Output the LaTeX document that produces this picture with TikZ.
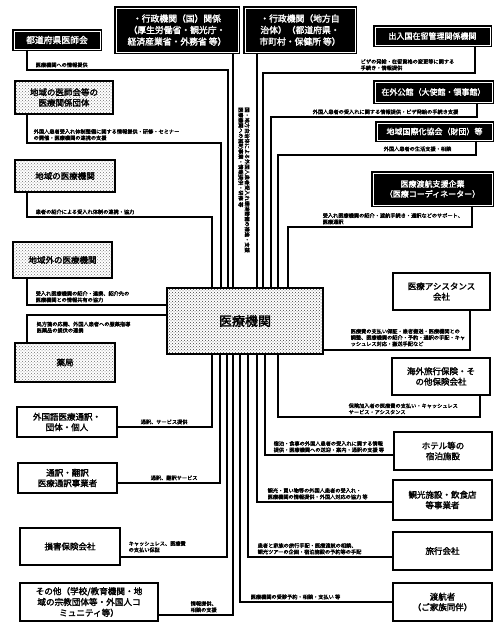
\documentclass[tikz,border=0pt]{standalone}
\usepackage{fontspec}
\setmainfont{Noto Sans CJK JP}[AutoFakeBold=2]
\usetikzlibrary{patterns}
\begin{document}
\begin{tikzpicture}[x=1pt,y=-1pt,
  blk/.style={draw=black, line width=1.3pt, double=white, double distance=0.5pt, fill=black, text=white, font=\bfseries\fontsize{8}{10}\selectfont, align=center, inner sep=1pt},
  spk/.style={draw=black, line width=1.3pt, pattern=crosshatch dots, pattern color=black!55, font=\bfseries\fontsize{8.5}{10.5}\selectfont, align=center, inner sep=1pt},
  wht/.style={draw=black, line width=1.5pt, fill=white, font=\bfseries\fontsize{8.5}{10.5}\selectfont, align=center, inner sep=1pt},
  ctr/.style={draw=black, line width=1.3pt, pattern=crosshatch dots, pattern color=black!75, font=\bfseries\fontsize{13}{15}\selectfont, align=center, inner sep=1pt},
  conn/.style={line width=1.1pt, draw=black},
  lbl/.style={font=\bfseries\fontsize{5.2}{6.3}\selectfont, inner sep=0.5pt, align=left}
]
\useasboundingbox (0,0) rectangle (497,624);

% ---- center ----
\node[ctr, minimum width=156, minimum height=66] (M) at (245,321) {医療機関};

% ---- top ----
\node[blk, minimum width=122, minimum height=44, font=\bfseries\fontsize{8.8}{11.5}\selectfont] (T1) at (177,30) {・行政機関（国）関係\\（厚生労働省・観光庁・\\経済産業省・外務省 等）};
\node[blk, minimum width=110, minimum height=44, font=\bfseries\fontsize{8.8}{11.5}\selectfont] (T2) at (300,30) {・行政機関（地方自\\治体）（都道府県・\\市町村・保健所 等）};

% ---- left ----
\node[blk, minimum width=86, minimum height=18, font=\bfseries\fontsize{8.8}{10}\selectfont] (A) at (57,40) {都道府県医師会};
\node[spk, minimum width=98, minimum height=33] (B) at (64,97.5) {地域の医師会等の\\医療関係団体};
\node[spk, minimum width=100, minimum height=32] (C) at (65,176) {地域の医療機関};
\node[spk, minimum width=99, minimum height=36] (D) at (62.5,260) {地域外の医療機関};
\node[spk, minimum width=100, minimum height=39] (E) at (65,362.5) {薬局};
\node[wht, minimum width=100, minimum height=30] (F) at (67,422) {外国語医療通訳・\\団体・個人};
\node[wht, minimum width=99, minimum height=30] (G) at (67.5,478) {通訳・翻訳\\医療通訳事業者};
\node[wht, minimum width=100, minimum height=37] (H) at (70,546.5) {損害保険会社};
\node[wht, minimum width=138, minimum height=38, font=\bfseries\fontsize{8.6}{10.8}\selectfont] (I) at (89,602) {その他（学校/教育機関・地\\域の宗教団体等・外国人コ\\ミュニティ等）};

% ---- right ----
\node[blk, minimum width=115, minimum height=18] (R1) at (432.5,36) {出入国在留管理関係機関};
\node[blk, minimum width=117, minimum height=20] (R2) at (433.5,92) {在外公館（大使館・領事館）};
\node[blk, minimum width=115, minimum height=17] (R3) at (434.5,131.5) {地域国際化協会（財団）等};
\node[blk, minimum width=119, minimum height=32] (R4) at (432.5,189) {医療渡航支援企業\\（医療コーディネーター）};
\node[wht, minimum width=97, minimum height=37] (R5) at (441.5,291.5) {医療アシスタンス\\会社};
\node[wht, minimum width=98, minimum height=37] (R6) at (441,376.5) {海外旅行保険・そ\\の他保険会社};
\node[wht, minimum width=98, minimum height=38] (R7) at (443,451) {ホテル等の\\宿泊施設};
\node[wht, minimum width=99, minimum height=40] (R8) at (442.5,500) {観光施設・飲食店\\等事業者};
\node[wht, minimum width=99, minimum height=38] (R9) at (442.5,551) {旅行会社};
\node[wht, minimum width=99, minimum height=38] (R10) at (442.5,602) {渡航者\\（ご家族同伴）};

% ---- connectors top ----
\draw[conn] (T1.south -| 233,0) -- (233,0 |- M.north);
\draw[conn] (T2.south -| 257,0) -- (257,0 |- M.north);
\node[lbl, rotate=-90, align=left] (vt) at (244,180) {国・地方自治体による外国人患者受入れ環境整備の推進・支援\\医療機関への補助事業・情報提供・研修 等};

% ---- connectors left ----
\draw[conn] (A.south -| 27,0) |- (228,70) -- (228,0 |- M.north);
\node[lbl, anchor=south west] (la) at (35,68) {医療機関への情報提供};
\draw[conn] (B.south -| 27,0) |- (221,143) -- (221,0 |- M.north);
\node[lbl, anchor=south west] (lb) at (33,141) {外国人患者受入れ体制整備に関する情報提供・研修・セミナー\\の開催・医療機関の連携の支援};
\draw[conn] (C.south -| 27,0) |- (212,217) -- (212,0 |- M.north);
\node[lbl, anchor=south west] (lc) at (35,215) {患者の紹介による受入れ体制の連携・協力};
\draw[conn] (D.south -| 27,0) |- (M.west |- 0,305);
\node[lbl, anchor=south west] (ld) at (35,303) {受入れ医療機関の紹介・連携、紹介先の\\医療機関との情報共有の協力};
\draw[conn] (E.north -| 27,0) |- (M.west |- 0,315);
\node[lbl, anchor=north west] (le) at (36,321) {処方箋の応需、外国人患者への服薬指導\\医薬品の提供の連携};
\draw[conn] (F.east |- 0,427) -| (212,0 |- M.south);
\node[lbl, anchor=south west] (lf) at (140,425) {通訳、サービス提供};
\draw[conn] (G.east |- 0,483) -| (220,0 |- M.south);
\node[lbl, anchor=south west] (lg) at (150,481) {通訳、翻訳サービス};
\draw[conn] (H.east |- 0,557) -| (227,0 |- M.south);
\node[lbl, anchor=south west] (lh) at (128,553) {キャッシュレス、医療費\\の支払い保証};
\draw[conn] (I.east |- 0,615) -| (233,0 |- M.south);
\node[lbl, anchor=south west] (li) at (190,613) {情報提供、\\相談の支援};

% ---- connectors right ----
\draw[conn] (R1.south -| 475,0) |- (263,73) -- (263,0 |- M.north);
\node[lbl, anchor=south west] (l1) at (360,71) {ビザの発給・在留資格の変更等に関する\\手続き・情報提供};
\draw[conn] (R2.south -| 477,0) |- (271,117) -- (271,0 |- M.north);
\node[lbl, anchor=south west] (l2) at (312,115) {外国人患者の受入れに関する情報提供・ビザ発給の手続き支援};
\draw[conn] (R3.south -| 476,0) |- (278,155) -- (278,0 |- M.north);
\node[lbl, anchor=south west] (l3) at (383,152) {外国人患者の生活支援・相談};
\draw[conn] (R4.south -| 472,0) |- (288,227) -- (288,0 |- M.north);
\node[lbl, anchor=south west] (l4) at (322,225) {受入れ医療機関の紹介・渡航手続き・通訳などのサポート、\\医療通訳};
\draw[conn] (R5.south -| 470,0) |- (M.east |- 0,350);
\node[lbl, anchor=south west] (l5) at (350,347) {医療費の支払い保証・患者搬送・医療機関との\\調整、医療機関の紹介・予約・通訳の手配・キャ\\ッシュレス対応・搬送手配など};
\draw[conn] (R6.south -| 480,0) |- (278,417) -- (278,0 |- M.south);
\node[lbl, anchor=south west] (l6) at (348,415) {保険加入者の医療費の支払い・キャッシュレス\\サービス・アシスタンス};
\draw[conn] (R7.west |- 0,455) -| (265,0 |- M.south);
\node[lbl, anchor=south west] (l7) at (273,453) {宿泊・食事の外国人患者の受入れに関する情報\\提供・医療機関への送迎・案内・通訳の支援 等};
\draw[conn] (R8.west |- 0,502) -| (257,0 |- M.south);
\node[lbl, anchor=south west] (l8) at (267,500) {観光・買い物等の外国人患者の受入れ・\\医療機関の情報提供・外国人対応の協力 等};
\draw[conn] (R9.west |- 0,557) -| (248,0 |- M.south);
\node[lbl, anchor=south west] (l9) at (257,555) {患者と家族の旅行手配・医療渡航の相談、\\観光ツアーの企画・宿泊施設の予約等の手配};
\draw[conn] (R10.west |- 0,602) -| (240,0 |- M.south);
\node[lbl, anchor=south west] (l10) at (250,600) {医療機関の受診予約・相談・支払い 等};
\end{tikzpicture}
\end{document}
